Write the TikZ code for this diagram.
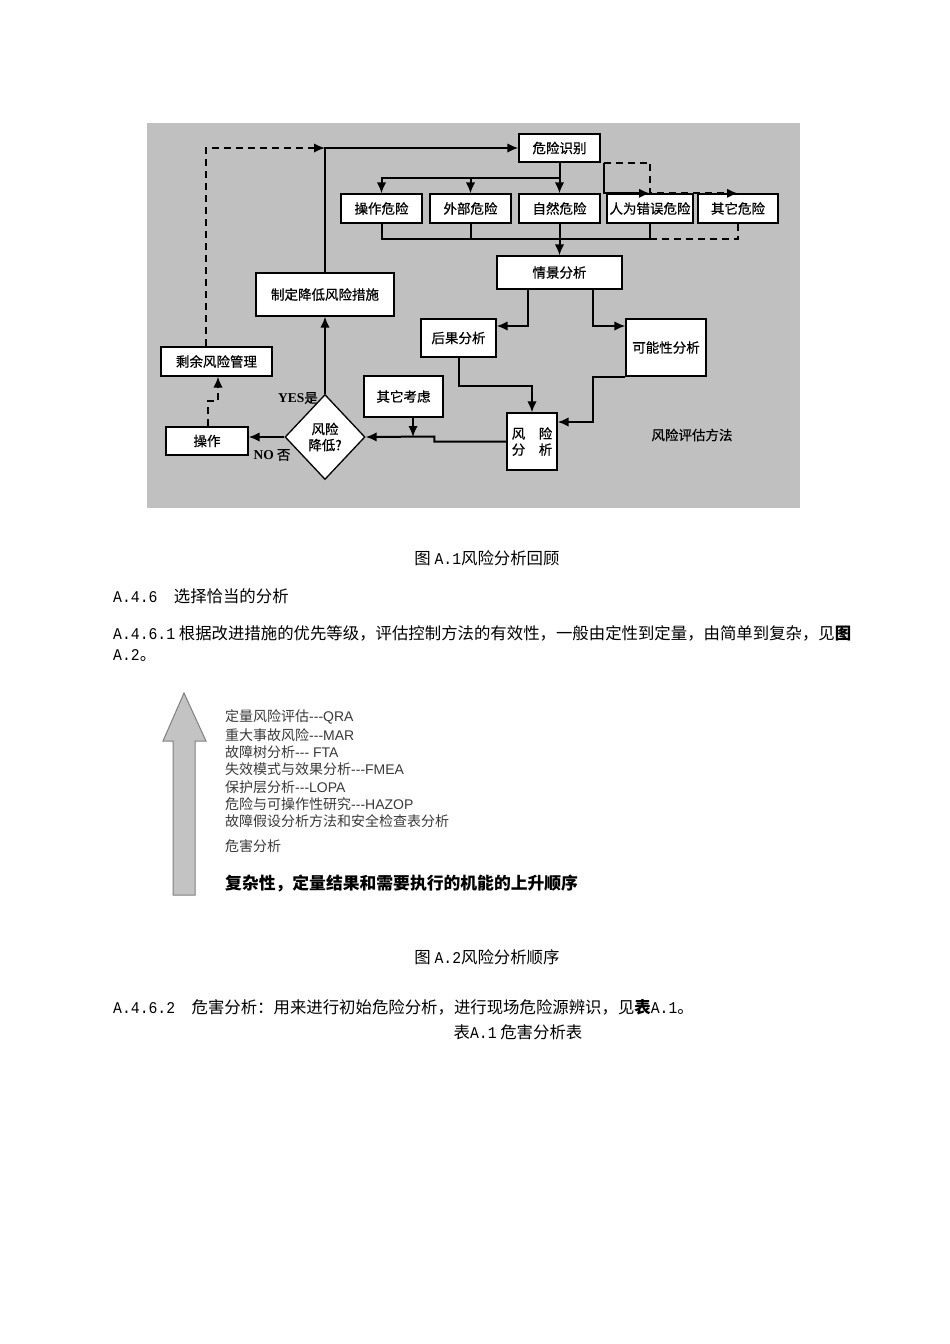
\documentclass[tikz,border=0pt]{standalone}
\usepackage{fontspec}
\setmainfont{Noto Sans CJK SC}
\newfontfamily\nrw[FakeStretch=0.9]{Liberation Mono}
\newfontfamily\hei[FakeBold=0.6]{Noto Sans CJK SC}
\newfontfamily\lat{Liberation Sans}
\newfontfamily\tms{Liberation Serif}
\usetikzlibrary{arrows.meta,shapes.geometric}
\definecolor{bggray}{HTML}{C0C0C0}
\definecolor{arrgray}{HTML}{C3C3C3}
\definecolor{txtgray}{HTML}{3A3A3A}

\begin{document}
\begin{tikzpicture}[x=1pt, y=-1pt, >={Latex[length=11pt,width=9.5pt]},
    font=\hei\fontsize{13.5}{16}\selectfont,
    blk/.style={draw, line width=1.3pt, fill=white, inner sep=1pt, align=center},
    con/.style={line width=2pt},
    dsh/.style={con, dash pattern=on 7pt off 5pt},
    body/.style={anchor=west, inner sep=0pt, font=\rmfamily\fontsize{16.4}{19}\selectfont},
    cpt/.style={body, anchor=center},
    lvl/.style={anchor=west, inner sep=0pt, text=txtgray, font=\rmfamily\fontsize{14}{16}\selectfont}]
    \useasboundingbox (0,0) rectangle (950,1344);
    \fill[white] (0,0) rectangle (950,1344);
    \fill[bggray] (147,123) rectangle (800,508);
    % figure A.1
    \node[blk, minimum width=81, minimum height=28]  (idf) at (559.5,148)   {危险识别};
    \node[blk, minimum width=81, minimum height=29]  (opr) at (381.5,208.5) {操作危险};
    \node[blk, minimum width=81, minimum height=29]  (ext) at (470.5,208.5) {外部危险};
    \node[blk, minimum width=81, minimum height=29]  (nat) at (559.5,208.5) {自然危险};
    \node[blk, minimum width=86, minimum height=29, inner sep=0pt] (hum) at (650,208.5) {人为错误危险};
    \node[blk, minimum width=80, minimum height=29]  (oth) at (738,208.5)   {其它危险};
    \node[blk, minimum width=125, minimum height=33] (scn) at (559.5,272.5) {情景分析};
    \node[blk, minimum width=75, minimum height=38]  (csq) at (458.5,338)   {后果分析};
    \node[blk, minimum width=80, minimum height=57]  (lik) at (666,347.5)   {可能性分析};
    \node[blk, minimum width=50, minimum height=57]  (rsk) at (532,441.5)   {风　险\\分　析};
    \node[blk, minimum width=79, minimum height=41]  (cns) at (403.5,396.5) {其它考虑};
    \node[blk, minimum width=138, minimum height=43] (mea) at (325,294.5)   {制定降低风险措施};
    \node[blk, diamond, inner sep=0pt, minimum width=80, minimum height=85] (dec) at (325,437) {风险\\降低?};
    \node[blk, minimum width=111, minimum height=29] (res) at (216.5,361.5) {剩余风险管理};
    \node[blk, minimum width=82, minimum height=28]  (op)  at (207,441)     {操作};
    \node (yes) at (298,398) {{\tms\bfseries YES}是};
    \node (no)  at (272,455) {{\tms\bfseries NO} 否};
    \node (mth) at (692,435) {风险评估方法};
    \coordinate (tp) at (325,148);
    \coordinate (dl) at (206,0);
    \coordinate (sp) at (559.5,178);
    \coordinate (jn) at (559.5,239);
    \coordinate (cj) at (413,437);
    \draw[con, ->] (mea.north) |- (idf.west);
    \draw[dsh, ->] (res.north -| dl) |- (tp);
    \draw[con] (idf.south) -- (sp);
    \draw[con, ->] (sp) -| (opr.north);
    \draw[con, ->] (sp) -| (ext.north);
    \draw[con, ->] (sp) -- (nat.north);
    \draw[con, ->] ([xshift=3pt]idf.south east) |- (hum.north);
    \draw[dsh, ->] ([xshift=3pt]idf.south east) -| (hum.north) -- (oth.north);
    \draw[con] (opr.south) |- (jn) -| (hum.south);
    \draw[con] (ext.south) -- (ext.south |- jn);
    \draw[dsh] (oth.south) |- (hum.south |- jn);
    \draw[con, ->] (nat.south) -- (scn.north);
    \draw[con, ->] ([xshift=-32pt]scn.south) |- ([yshift=12pt]csq.east);
    \draw[con, ->] ([xshift=33.5pt]scn.south) |- ([yshift=21.5pt]lik.west);
    \draw[con, ->] (csq.south) -- ++(0,28) -| (rsk.north);
    \draw[con, ->] (lik.south west) -- ++(-32,0) |- ([yshift=19.5pt]rsk.east);
    \draw[con, ->] (rsk.west) -- ++(-72,0) -- ++(0,-5) -- (dec.east);
    \draw[con, ->] (cns.south -| cj) -- (cj);
    \draw[con, ->] (dec.north) -- (mea.south);
    \draw[con, ->] (dec.west) -- (dec.west -| op.east);
    \draw[dsh, ->] ([xshift=1pt]op.north) -- ++(0,-25) -| ([xshift=1.5pt]res.south);
    % text
    \node[cpt] (c1) at (487,558) {图 {\nrw A.1}风险分析回顾};
    \node[body] (h1) at (113,596) {{\nrw A.4.6}\quad 选择恰当的分析};
    \node[body] (p1) at (113,633) {{\nrw A.4.6.1} 根据改进措施的优先等级，评估控制方法的有效性，一般由定性到定量，由简单到复杂，见\textbf{图}};
    \node[body] (p2) at (113,656) {{\nrw A.2}。};
    % figure A.2
    \draw[fill=arrgray, draw=gray, line width=1pt] (173,895) -- (173,741) -- (163,741) -- (184,693)
        -- (206,741) -- (195,741) -- (195,895) -- cycle;
    \node[lvl] (l1) at (225,717) {定量风险评估{\lat ---QRA}};
    \node[lvl] (l2) at (225,735) {重大事故风险{\lat ---MAR}};
    \node[lvl] (l3) at (225,752) {故障树分析{\lat --- FTA}};
    \node[lvl] (l4) at (225,769) {失效模式与效果分析{\lat ---FMEA}};
    \node[lvl] (l5) at (225,787) {保护层分析{\lat ---LOPA}};
    \node[lvl] (l6) at (225,804) {危险与可操作性研究{\lat ---HAZOP}};
    \node[lvl] (l7) at (225,821) {故障假设分析方法和安全检查表分析};
    \node[lvl] (l8) at (225,846) {危害分析};
    \node[lvl, text=black, font=\rmfamily\fontsize{16.8}{19}\selectfont\bfseries] (l9) at (225,883)
        {复杂性，定量结果和需要执行的机能的上升顺序};
    \node[cpt] (c2) at (487,957) {图 {\nrw A.2}风险分析顺序};
    \node[body] (p3) at (113,1007) {{\nrw A.4.6.2}\quad 危害分析：用来进行初始危险分析，进行现场危险源辨识，见\textbf{表}{\nrw A.1}。};
    \node[cpt] (c3) at (518,1032) {表{\nrw A.1} 危害分析表};
\end{tikzpicture}
\end{document}
